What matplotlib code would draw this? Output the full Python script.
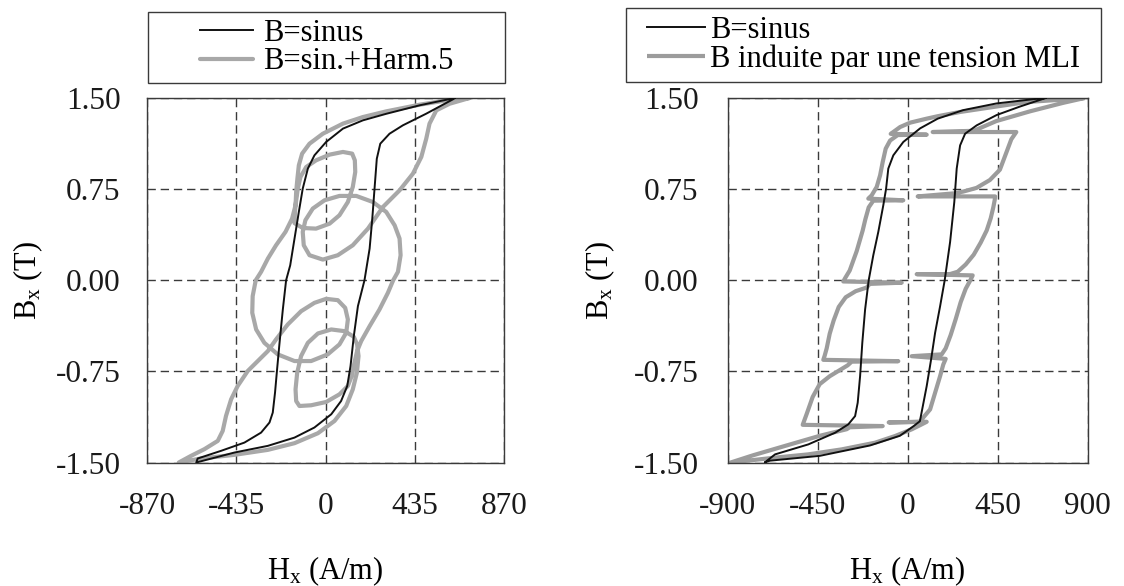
import matplotlib
matplotlib.use("Agg")
import matplotlib.pyplot as plt
from matplotlib.patches import Rectangle

plt.rcParams['font.family'] = ['Liberation Serif', 'DejaVu Serif']
plt.rcParams['mathtext.fontset'] = 'custom'
plt.rcParams['mathtext.rm'] = 'Liberation Serif'
plt.rcParams['mathtext.it'] = 'Liberation Serif:italic'

# ---------------- data ----------------
left_xticks = [-870, -435, 0, 435, 870]
right_xticks = [-900, -450, 0, 450, 900]
yticks = [-1.5, -0.75, 0.0, 0.75, 1.5]

# left panel, B = sinus
left_sin_H = [630, 459, 296, 182, 85, 3, -54, -86, -111, -130, -151, -172, -192,
              -208, -224, -236, -246, -257, -273, -314, -395, -509, -623, -630,
              -444, -281, -151, -54, 28, 76, 106, 122, 138, 158, 190,
              215, 228, 239, 250, 267, 312, 377, 491, 621, 630]
left_sin_B = [1.50, 1.44, 1.37, 1.316, 1.248, 1.138, 1.028, 0.919, 0.754, 0.562, 0.343, 0.123, 0.0,
              -0.241, -0.515, -0.734, -0.925, -1.089, -1.171, -1.254, -1.336, -1.404, -1.467, -1.50,
              -1.418, -1.363, -1.295, -1.212, -1.103, -0.994, -0.870, -0.706, -0.460, -0.213, 0.0,
              0.26, 0.507, 0.754, 1.0, 1.124, 1.206, 1.275, 1.371, 1.489, 1.50]

# left panel, B = sin. + Harm.5
left_h5_H = [702, 589, 459, 296, 182, 85, -13, -78, -114, -130, -137, -143, -145, -149, -151,
             -111, -46, 20, 68, 109, 133, 145, 143, 130,
             85, 20, -46, -94, -122, -135, -146, -163, -195, -241, -281, -314, -340,
             -355, -357, -338, -298, -233, -151, -70, 11, 68, 101, 109, 96, 60, 3,
             -54, -119, -184, -241, -281, -330, -379, -428, -460, -485, -501, -525,
             -590, -655, -715,
             -607, -444, -281, -151, -37, 44, 101, 133, 153, 161, 154, 138,
             93, 28, -37, -86, -119, -138, -146, -143, -127,
             -70, 3, 68, 109, 128, 141, 154, 174, 215, 263, 304, 330,
             353, 366, 361, 337, 296, 231, 150, 68, -5, -62, -98, -111, -106, -78,
             -13, 60, 133, 207, 280, 361, 426, 467, 491, 507, 540, 605, 702]
left_h5_B = [1.50, 1.48, 1.445, 1.39, 1.343, 1.289, 1.206, 1.124, 1.042, 0.946, 0.836, 0.727, 0.65, 0.55, 0.47,
             0.430, 0.425, 0.466, 0.535, 0.644, 0.768, 0.891, 0.987, 1.042,
             1.056, 1.034, 0.987, 0.932, 0.850, 0.754, 0.617, 0.507, 0.398, 0.288, 0.178, 0.069, 0.0,
             -0.131, -0.268, -0.405, -0.515, -0.610, -0.665, -0.665, -0.610, -0.528, -0.432, -0.323, -0.227, -0.164, -0.153,
             -0.186, -0.255, -0.364, -0.487, -0.583, -0.665, -0.747, -0.870, -0.980, -1.117, -1.240, -1.322,
             -1.390, -1.445, -1.50,
             -1.467, -1.437, -1.396, -1.341, -1.259, -1.158, -1.035, -0.898, -0.761, -0.624, -0.528, -0.465,
             -0.419, -0.405, -0.438, -0.515, -0.624, -0.761, -0.898, -0.994, -1.035,
             -1.029, -1.002, -0.939, -0.870, -0.788, -0.679, -0.583, -0.501, -0.378, -0.241, -0.104, 0.0,
             0.069, 0.206, 0.343, 0.452, 0.562, 0.644, 0.694, 0.694, 0.658, 0.590, 0.494, 0.398, 0.288, 0.206,
             0.170, 0.206, 0.288, 0.425, 0.603, 0.740, 0.877, 1.015, 1.165, 1.289, 1.398, 1.453, 1.50]

# right panel, B = sinus
right_sin_H = [690, 626, 443, 277, 150, 62, -22, -72, -97, -108, -122, -147, -172, -195,
               -213, -227, -238, -250, -263, -297, -363, -497, -663, -715,
               -689, -439, -189, -39, 30, 61, 95, 117, 137, 162, 185,
               212, 233, 245, 262, 287, 345, 445, 562, 690]
right_sin_B = [1.50, 1.49, 1.455, 1.40, 1.33, 1.25, 1.138, 1.028, 0.919, 0.754, 0.617, 0.398, 0.206, 0.0,
               -0.241, -0.515, -0.789, -1.008, -1.118, -1.186, -1.255, -1.351, -1.433, -1.50,
               -1.485, -1.445, -1.36, -1.28, -1.20, -1.16, -0.871, -0.652, -0.433, -0.214, 0.0,
               0.315, 0.644, 0.919, 1.110, 1.206, 1.275, 1.36, 1.43, 1.50]

# right panel, B induced by a PWM (MLI) voltage
right_mli_H = [885, 760, 595, 428, 262, 150, 95, 12, -38, -68, -85, 95, -50,
               -88, -110, -125, -138, -155, -180, -197, -22, -172,
               -195, -212, -225, -255, -290, -312, -322, -30, -190,
               -205, -260, -310, -345, -370, -390, -405, -415, -422, -47, -280,
               -300, -340, -390, -440, -475, -505, -525, -125, -290,
               -305, -439, -606, -772, -885,
               -663, -497, -330, -163, -63, 20, 70, 95, -95, 60,
               112, 137, 162, 178, 190, 20, 170,
               190, 215, 240, 265, 290, 310, 325, 45, 210,
               250, 290, 330, 365, 395, 415, 428, 435, 437, 50, 230,
               278, 344, 411, 461, 493, 518, 543, 125, 330,
               443, 611, 777, 885]
right_mli_B = [1.50, 1.485, 1.467, 1.426, 1.385, 1.35, 1.33, 1.297, 1.261, 1.225, 1.205, 1.198, 1.195,
               1.15, 1.083, 0.973, 0.864, 0.768, 0.699, 0.672, 0.658, 0.655,
               0.60, 0.50, 0.41, 0.24, 0.08, 0.02, -0.01, -0.02, -0.03,
               -0.06, -0.09, -0.14, -0.22, -0.33, -0.44, -0.56, -0.62, -0.655, -0.666, -0.67,
               -0.70, -0.74, -0.79, -0.855, -0.96, -1.10, -1.19, -1.20, -1.21,
               -1.226, -1.28, -1.36, -1.44, -1.50,
               -1.46, -1.433, -1.392, -1.337, -1.282, -1.227, -1.186, -1.165, -1.17, -1.165,
               -1.063, -0.926, -0.789, -0.693, -0.647, -0.625, -0.61,
               -0.56, -0.45, -0.32, -0.18, -0.07, -0.01, 0.04, 0.05, 0.05,
               0.07, 0.13, 0.21, 0.31, 0.41, 0.51, 0.60, 0.66, 0.69, 0.69, 0.715,
               0.73, 0.76, 0.825, 0.91, 1.05, 1.16, 1.22, 1.22, 1.23,
               1.31, 1.39, 1.46, 1.50]

left_labels = ["B=sinus", "B=sin.+Harm.5"]
right_labels = ["B=sinus", "B induite par une tension MLI"]
xlabel = r"H$_\mathrm{x}$ (A/m)"
ylabel = r"B$_\mathrm{x}$ (T)"

# ---------------- styling ----------------
W, Hh = 1124, 586
fig = plt.figure(figsize=(W / 100, Hh / 100), dpi=100)
fig.patch.set_facecolor('white')

GRAY_L = '#a8a8a8'
GRAY_R = '#9c9c9c'
BLACK = '#111111'
FS_TICK = 22.5
FS_LAB = 22
FS_LEG = 22


def px_axes(x0, x1, y0, y1):
    return [x0 / W, 1 - y1 / Hh, (x1 - x0) / W, (y1 - y0) / Hh]


def style_axes(ax, xticks, xlim, ypad, ylab_x):
    ax.set_xlim(*xlim)
    ax.set_ylim(-1.5, 1.5)
    ax.set_xticks(xticks)
    ax.set_xticklabels([str(v) for v in xticks])
    ax.set_yticks(yticks)
    ax.set_yticklabels([f"{v:.2f}" for v in yticks])
    ax.tick_params(axis='both', length=0, labelsize=FS_TICK, colors='#1a1a1a')
    ax.tick_params(axis='x', pad=21)
    ax.tick_params(axis='y', pad=ypad)
    ax.grid(True, color='#3a3a3a', linestyle=(0, (6, 3.5)), linewidth=1.0)
    ax.set_axisbelow(True)
    for s in ax.spines.values():
        s.set_color('#3a3a3a')
        s.set_linewidth(1.0)
    ax.set_xlabel(xlabel, fontsize=FS_LAB)
    ax.set_ylabel(ylabel, fontsize=FS_LAB)
    ax.xaxis.label.set_verticalalignment('center')
    ax.yaxis.label.set_verticalalignment('center')
    ax.xaxis.set_label_coords(0.5, -0.297)
    ax.yaxis.set_label_coords(ylab_x, 0.5)


def legend_box(ax, handles, labels, x0, x1, y0, y1, hl, htp):
    fx, fy, fw, fh = x0 / W, 1 - y1 / Hh, (x1 - x0) / W, (y1 - y0) / Hh
    fig.patches.append(Rectangle((fx, fy), fw, fh, transform=fig.transFigure,
                                 fill=False, edgecolor='#3a3a3a', linewidth=1.0))
    ax.legend(handles, labels, loc='center', bbox_to_anchor=(fx, fy, fw, fh),
              bbox_transform=fig.transFigure, frameon=False, fontsize=FS_LEG,
              handlelength=hl, handletextpad=htp, labelspacing=-0.02,
              borderpad=0.0, borderaxespad=0.0)


# left panel
axL = fig.add_axes(px_axes(147, 504, 98, 462.5))
g1, = axL.plot(left_h5_H, left_h5_B, color=GRAY_L, lw=3.0,
               solid_joinstyle='round', solid_capstyle='round', zorder=2)
b1, = axL.plot(left_sin_H, left_sin_B, color=BLACK, lw=1.4,
               solid_joinstyle='round', zorder=3)
style_axes(axL, left_xticks, (-870, 870), 19, -0.333)
legend_box(axL, [b1, g1], left_labels, 148, 505, 12, 83, 1.75, 0.3)

# right panel
axR = fig.add_axes(px_axes(727.7, 1087.7, 98, 462.5))
g2, = axR.plot(right_mli_H, right_mli_B, color=GRAY_R, lw=3.0,
               solid_joinstyle='round', solid_capstyle='butt', zorder=2)
b2, = axR.plot(right_sin_H, right_sin_B, color=BLACK, lw=1.4,
               solid_joinstyle='round', zorder=3)
style_axes(axR, right_xticks, (-900, 900), 21, -0.353)
legend_box(axR, [b2, g2], right_labels, 626, 1101, 8, 82, 1.9, 0.18)

fig.savefig("out.png", dpi=100, facecolor='white')
